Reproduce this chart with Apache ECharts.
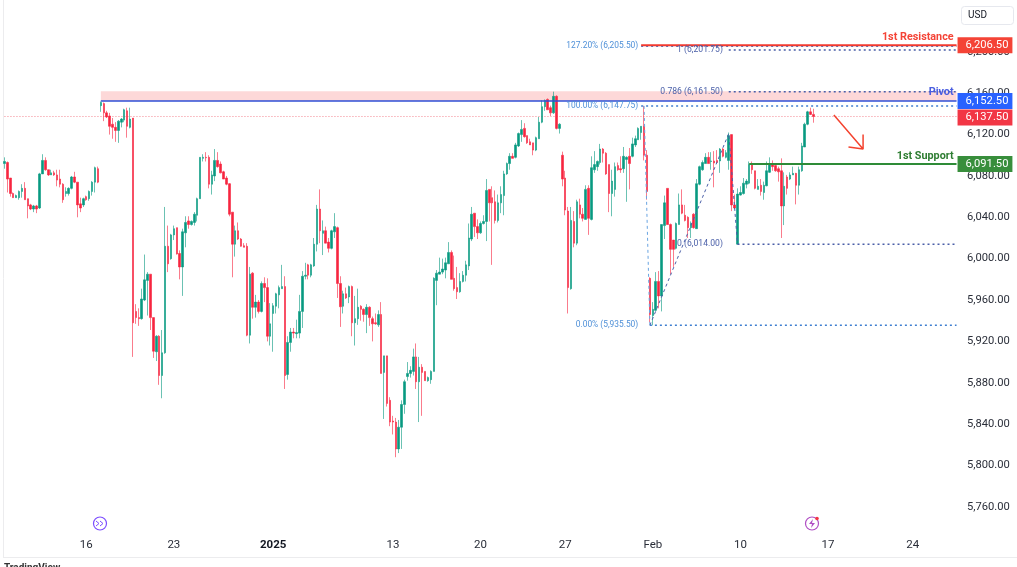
<!DOCTYPE html>
<html>
<head>
<meta charset="utf-8">
<title>ES 4H</title>
<script src="https://cdn.jsdelivr.net/npm/echarts@6/dist/echarts.min.js"></script>
<style>
html,body{margin:0;padding:0;background:#fff;overflow:hidden;}
#main{width:1017px;height:567px;}
</style>
</head>
<body>
<div id="main"></div>
<script>
//candles, one value per 4h bar
var opens = [
6092,6093,6078,6063,6059,6059,6065,6068,6058,6052,
6048,6051,6049,6082,6095,6086,6081,6083,6081,6077,
6072,6063,6063,6068,6079,6074,6053,6052,6060,6058,
6065,6074,6087,6148,6150,6141,6138,6130,6127,6124,
6132,6134,6143,6127,6136,5949,5943,5942,5960,5979,
5985,5943,5910,5925,5887,5909,6012,6000,6023,6030,
6005,5992,6025,6036.5,6033,6035,6042,6058,6097,6098,
6098,6072,6080,6095,6091.5,6084,6078,6072.5,6045,6014,
6027,6019,6012.5,6012,5926,5986,5953,5958,5949,5976,
5972,5925,5947,5954,5965,5971,5973,5888,5919,5929,
5927.5,5928,5949,5983,5994,5984,5993,6014,6048,6024.5,
6027,6016,6010,6026,6030,5976,5954,5966,5963,5973,
5938,5942,5954,5951,5946,5953,5942,5938,5936,5946,
5890,5906,5863,5843,5842,5816,5837,5859,5886,5889,
5891,5905,5881,5895,5891,5882,5883,5891,5979,5985,
5987,5989,5995,6006,5981,5972,5968,5978,5984,5993,
6019,6044,6031,6025,6034,6036,6067,6059,6055,6037,
6054,6061,6082,6092,6099,6098,6109,6120,6126,6119,
6113,6112,6105,6116,6132,6147,6154,6146,6141,6157,
6126,6100,6078,6046,5971,6036,6015,6052,6043,6038,
6068,6038,6086,6089,6093,6106,6102,6091,6063,6067,
6090,6087,6087,6096,6099,6099,6110,6115,6122,6128,
6100,5981,5945,5950,5978,5964,6032,6068,6033,6018,
6010,6033,6052,6042,6040,6030,6043,6029,6072,6086,
6092,6098,6094,6094.5,6095,6094.5,6106,6098,6095,6120,
6052,6014,6061.5,6063,6072,6073,6091,6085,6067,6071,
6064,6070.5,6083.5,6090.5,6090,6087,6085,6051,6079,6077,
6081,6082.5,6071,6085,6108,6130,6142,6139.5];
var closes = [
6094,6077,6063,6059,6061,6065,6068,6057,6051,6048,
6051,6048,6082,6095,6086,6081,6083,6081,6076,6072,
6057,6065,6068,6079,6074,6052,6049,6058,6057,6065,
6074,6088,6074,6151,6141,6137,6128,6127,6124,6133,
6135,6144,6128,6135,5938,5943,5942,5961,5979.5,5985,
5943,5910.5,5925,5887,5909,6012,5995,6023,6029,6004.5,
5992,6026,6035,6033,6036,6043,6058,6098,6098,6097.5,
6072,6081,6095,6089,6083,6077,6072,6043,6014,6027,
6019,6012,6011,5926,5985,5953,5958,5949,5976,5972,
5925,5937,5954.5,5966,5972,5973,5887,5919,5929,5928,
5928.5,5949,5983,5984,5984,5994,6014,6048,6027,6027,
6015,6010,6027,6031,5976,5953.5,5966,5962,5973,5938,
5942,5953,5951,5946,5953,5943,5937,5937,5946,5889,
5906,5860,5842,5842,5816,5837,5859,5881,5889,5892,
5905,5881,5895,5890,5882,5885,5891,5981,5986,5987,
5990,5996,6006,5980,5971,5968,5978,5984,5994,6020,
6043,6031,6025,6034,6036,6066,6054,6054,6037,6054,
6062,6082,6092,6099,6097,6110,6121,6125,6118,6112,
6110,6105,6117,6132,6147,6153,6144,6141,6157,6126,
6130,6077,6047,5972,6037,6015,6055,6043,6039,6067,
6039,6088,6091,6094,6106,6102,6082,6063,6075,6089,
6086,6086,6099,6098,6092,6111,6116,6126,6128,6100,
6065,5946,5951,5978,5964,6033,6054,6033,6009,6009,
6034,6052,6044,6037,6030,6034,6030,6072.5,6089,6093,
6098,6092,6094.5,6092.5,6093,6106,6099,6102.5,6119,6052,
6049,6062.5,6064,6073,6075,6091,6086,6068,6070,6065,
6071,6085,6091,6089,6085,6084,6051,6070,6068,6081,
6082.5,6071,6086,6109,6130,6142,6139.5,6137.5];
var lows = [
6087,6064,6060,6059,6059,6057,6059,6057,6039,6047,
6045,6044,6048,6082,6085,6080,6081,6080,6070,6069,
6054,6060,6061,6067,6073,6040,6045,6050,6056,6056,
6061,6064,6073,6142,6133,6136,6120,6116,6113,6112,
6127,6132,6117,6126,5905,5937,5935,5941,5959,5945,
5931,5904,5901,5878,5865,5908,5987,5999,6018,6004,
5980,5964,6011,6029,6032,6032,6036,6058,6094,6094,
6068,6062,6075,6088,6082.5,6077,6071,6041,5982,6002,
6018,6011.6,6011,5925,5918,5942,5943,5947,5948,5958,
5920,5916,5910,5947,5952,5971,5874,5883,5910,5923,
5923,5923,5933,5980,5980,5982,5992,6007,6015,6003.5,
6015,6006,6009,6020,5962,5934,5947,5961,5957,5925,
5916,5936,5940,5939,5928,5935,5920,5936,5934,5889,
5845,5857,5838,5830,5808,5812,5816,5850,5882,5885,
5887,5874,5842,5848,5882,5881,5879,5891,5955,5985,
5985,5981,5995,5980,5969,5961,5967,5977,5978,5989,
6017,6021,6019,6024,6033,6017,6036,5994,6034,6035,
6044,6042,6081,6086,6097,6097,6108,6113,6117,6111,
6110,6100,6104,6116,6131,6143,6144,6138,6140,6125,
6121,6070,6042,5947,5970,6011,6013,6039,6036,6038,
6023,6037,6083,6085,6091,6093,6081,6045,6041,6060,
6085,6083,6083,6055,6067,6098,6108,6115,6115,6095,
6057,5938.5,5935.5,5949,5952,5949,6019,6033,5985,5992,
6009,6033,6043,6036,6020,6020,6029,6029,6071,6085,
6092,6092,6086,6069,6092,6083,6098,6097,6086,6046,
6048,6014,6061,6062,6068,6072,6082,6067,6067,6061,
6057,6070,6083,6085,6084,6074.5,6020,6032.5,6062,6076,
6081,6052.5,6062,6084,6108,6129,6139,6131.5];
var highs = [
6098,6094,6078,6064,6062,6066,6072,6074,6058,6053,
6052,6052,6083,6101,6098,6086,6086,6085,6086,6086,
6073,6069,6069,6080,6084,6074,6059,6059,6061,6066,
6075,6089,6089,6152,6151,6143,6141,6136,6132,6134,
6136,6145,6146,6146,6136,5956,5952,5971,6004,5987,
5985,5943,5926,5926,5931,6050,6032,6024,6032,6030,
6008,6029,6041,6041,6037,6045,6059,6098,6101,6103,
6100,6085,6106,6103,6094,6085,6080,6073,6045,6032,
6035,6020,6015,6015,5992,5987,5965,5960,5978,5982,
5981,5957,5957,5967,5974,5994,5983,5925,5933,5933,
5941,5965,5988,5996,5995,5995,6020,6052,6067,6037,
6031,6020,6028,6044,6031,5983,5969,5972,5974,5974,
5964,5971,5955,5952,5956,5954,5944,5947,5950,5958,
5906,5906,5866,5848,5846,5844,5863,5883,5900,5896,
5913,5918,5905,5898,5891,5886,5892,5982,5989,6001,
6000,6001,6016,6008,6003,5992,5986,5988,5998,6034,
6050,6044,6038,6036,6042,6077,6067,6070,6066,6062,
6070,6085,6093,6102,6102,6112,6122,6134,6131,6119,
6116,6112,6118,6137,6153,6154,6155,6148,6161.5,6158,
6131,6103.5,6085,6050,6050,6046,6057,6058,6049,6071,
6071,6099,6104,6095,6111,6107,6103,6091,6086,6093,
6093,6099,6108,6099,6107,6117,6119,6127,6128,6147.75,
6105,5982,5958,5987,5988,6033,6061,6068,6034,6018,
6035,6063,6067,6052,6041,6036,6044,6077,6090,6095,
6102,6103,6103,6104,6105,6107,6107,6105,6122,6120,
6062,6068,6070,6078,6077,6094,6094,6085,6077,6077,
6074.5,6094,6098,6095,6090.5,6089,6097,6083.5,6081,6083.5,
6089,6083,6089,6112,6131.5,6143,6146,6145];

//time axis
var tickSlots = [28,58,92,133,163,192,222,252,282,311];
var tickLabels = ['16','23','2025','13','20','27','Feb','10','17','24'];
var slotCount = 327;
var lastSlot = slotCount - 1;

//levels
var resistance = 6206.5;
var pivot = 6152.5;
var lastPrice = 6137.5;
var support = 6091.5;
var zoneTop = 6162;
var fibLight = [6205.5, 6147.75, 5935.5];
var fibLightText = ['127.20% (6,205.50)', '100.00% (6,147.75)', '0.00% (5,935.50)'];
var fibLightStart = [218, 218, 221];
var fibDark = [6201.75, 6161.5, 6014];
var fibDarkText = ['1 (6,201.75)', '0.786 (6,161.50)', '0 (6,014.00)'];
var fibDarkStart = [248, 248, 251];

//fib anchors and the red arrow
var fibLegA = [[219, 6147.75], [221, 5935.5]];
var fibLegB = [[221, 5935.5], [248, 6121], [251, 6014]];
var arrowPath = [[284, 6139], [294, 6106], [289, 6108], [294, 6106], [294, 6120]];

var RED = '#f7253f';
var GREEN = '#089981';
var RED_WICK = 'rgba(247,37,63,0.6)';
var GREEN_WICK = 'rgba(8,153,129,0.6)';
var FONT = 'Roboto, "Liberation Sans", sans-serif';

var categories = [];
for (var i = 0; i < slotCount; i++) {
    categories.push('');
}
for (var t = 0; t < tickSlots.length; t++) {
    categories[tickSlots[t]] = tickLabels[t];
}

var candleData = [];
for (var c = 0; c < opens.length; c++) {
    candleData.push([opens[c], closes[c], lows[c], highs[c]]);
}

function lineSeries(points, color, width, type, z) {
    return {
        type: 'line',
        data: points,
        symbol: 'none',
        silent: true,
        animation: false,
        z: z,
        lineStyle: { color: color, width: width, type: type }
    };
}
function levelSeries(start, price, color, width, type, z) {
    return lineSeries([[start, price], [lastSlot, price]], color, width, type, z);
}
//invisible point that only carries a text label
function textSeries(slot, price, text, label) {
    var l = {
        show: true,
        position: 'left',
        distance: 0,
        fontFamily: FONT,
        formatter: text
    };
    for (var k in label) {
        l[k] = label[k];
    }
    return {
        type: 'scatter',
        data: [[slot, price]],
        symbolSize: 0,
        silent: true,
        animation: false,
        z: 20,
        itemStyle: { opacity: 1 },
        label: l
    };
}
function badgeSeries(price, text, color, off, z) {
    return {
        type: 'scatter',
        data: [[lastSlot, price]],
        symbolSize: 0,
        silent: true,
        animation: false,
        z: z,
        itemStyle: { opacity: 1 },
        label: {
            show: true,
            position: 'right',
            distance: 1,
            offset: [0, off],
            formatter: text,
            color: '#fff',
            fontFamily: FONT,
            fontSize: 11.2,
            lineHeight: 13,
            backgroundColor: color,
            padding: [2, 4, 1, 8]
        }
    };
}

var LIGHT = '#3f7fd0';
var DARK = '#4a5fa8';
var series = [];

series.push({
    type: 'candlestick',
    data: candleData,
    barWidth: 2,
    z: 5,
    animation: false,
    itemStyle: {
        color: GREEN,
        color0: RED,
        borderColor: GREEN_WICK,
        borderColor0: RED_WICK,
        borderWidth: 1
    },
    markArea: {
        silent: true,
        itemStyle: { color: '#fdd8d8' },
        data: [[{ xAxis: 33, yAxis: zoneTop }, { xAxis: lastSlot, yAxis: pivot }]]
    }
});
series.push(levelSeries(0, lastPrice, '#f4858f', 1, [1, 2], 4));
series.push(levelSeries(33, pivot, '#2f4fd6', 1.5, 'solid', 8));
series.push(levelSeries(218, resistance, '#f23a2f', 2, 'solid', 9));
series.push(levelSeries(255, support, '#2e8b37', 2, 'solid', 9));
series.push(lineSeries(fibLegA, '#6aa5e2', 1, [3, 3], 6));
series.push(lineSeries(fibLegB, DARK, 1, [3, 3], 6));
series.push(lineSeries(arrowPath, '#f4432f', 1.5, 'solid', 9));

for (var a = 0; a < fibLight.length; a++) {
    series.push(levelSeries(fibLightStart[a], fibLight[a], LIGHT, 1.5, [2, 3], 6));
    series.push(textSeries(217, fibLight[a], fibLightText[a], { color: '#4f90d8', fontSize: 8.4 }));
}
for (var b = 0; b < fibDark.length; b++) {
    series.push(levelSeries(fibDarkStart[b], fibDark[b], DARK, 1.5, [2, 3], 6));
    series.push(textSeries(246, fibDark[b], fibDarkText[b], { color: DARK, fontSize: 8.6 }));
}

series.push(textSeries(325, resistance, '1st Resistance', { color: '#f44336', fontSize: 10.8, fontWeight: 'bold', offset: [0, -8] }));
series.push(textSeries(325, pivot, 'Pivot', { color: '#4a5ee0', fontSize: 10.8, fontWeight: 'bold', offset: [0, -9] }));
series.push(textSeries(325, support, '1st Support', { color: '#2e7d32', fontSize: 10.8, fontWeight: 'bold', offset: [0, -8] }));

series.push(badgeSeries(resistance, '6,206.50', '#f44336', 0, 30));
series.push(badgeSeries(lastPrice, '6,137.50', '#f23645', 1, 30));
series.push(badgeSeries(pivot, '6,152.50', '#2962ff', 0, 31));
series.push(badgeSeries(support, '6,091.50', '#388e3c', 0, 30));

var option = {
    animation: false,
    backgroundColor: '#fff',
    grid: { left: 3, right: 59, top: 10.5, bottom: 18.8 },
    xAxis: {
        type: 'category',
        data: categories,
        boundaryGap: true,
        axisLine: { show: false },
        axisTick: { show: false },
        splitLine: { show: false },
        axisLabel: {
            interval: function (index, value) {
                return value !== '';
            },
            hideOverlap: false,
            margin: -9,
            color: '#2a2e39',
            fontFamily: FONT,
            fontSize: 11.5,
            formatter: function (value) {
                return value === '2025' ? '{b|2025}' : value;
            },
            rich: {
                b: { fontWeight: 'bold', color: '#131722', fontFamily: FONT, fontSize: 11.5 }
            }
        }
    },
    yAxis: {
        type: 'value',
        position: 'right',
        min: 5720,
        max: 6240,
        interval: 40,
        scale: true,
        axisLine: { show: false },
        axisTick: { show: false },
        splitLine: { show: false },
        axisLabel: {
            showMinLabel: false,
            showMaxLabel: false,
            margin: 9,
            color: '#2a2e39',
            fontFamily: FONT,
            fontSize: 11.2,
            formatter: function (value) {
                return echarts.format.addCommas(value.toFixed(2));
            }
        }
    },
    graphic: [
        { type: 'line', shape: { x1: 3.5, y1: 0, x2: 3.5, y2: 557 }, style: { stroke: '#ececee', lineWidth: 1 }, silent: true },
        { type: 'line', shape: { x1: 3, y1: 557.5, x2: 1017, y2: 557.5 }, style: { stroke: '#ececee', lineWidth: 1 }, silent: true },
        { type: 'rect', shape: { x: 961.5, y: 6.5, width: 52, height: 18, r: 3 }, style: { fill: '#fff', stroke: '#e6e8ee', lineWidth: 1 }, z: 40, silent: true },
        { type: 'text', x: 968, y: 10, style: { text: 'USD', fill: '#131722', font: '10px ' + FONT }, z: 41, silent: true },
        //replay icon
        { type: 'circle', shape: { cx: 100, cy: 523.5, r: 6.5 }, style: { fill: '#fff', stroke: '#7c4dff', lineWidth: 1.2 }, silent: true, z: 40 },
        { type: 'polyline', shape: { points: [[96, 521], [99, 523.5], [96, 526]] }, style: { fill: 'none', stroke: '#7c4dff', lineWidth: 1 }, silent: true, z: 41 },
        { type: 'polyline', shape: { points: [[100, 521], [103, 523.5], [100, 526]] }, style: { fill: 'none', stroke: '#7c4dff', lineWidth: 1 }, silent: true, z: 41 },
        //earnings icon
        { type: 'circle', shape: { cx: 812, cy: 523.5, r: 6.5 }, style: { fill: '#fff', stroke: '#b04fc4', lineWidth: 1.2 }, silent: true, z: 40 },
        { type: 'polygon', shape: { points: [[813, 519], [809, 524], [812, 524], [811, 528], [815, 523], [812, 523]] }, style: { fill: '#b04fc4' }, silent: true, z: 41 },
        { type: 'circle', shape: { cx: 817, cy: 518.5, r: 1.8 }, style: { fill: '#f23645' }, silent: true, z: 42 },
        //logo line cut by the bottom of the window
        { type: 'text', x: 4, y: 563.5, style: { text: 'TradingView', fill: '#333', font: 'bold 10px ' + FONT }, silent: true }
    ],
    series: series
};

var chart = echarts.init(document.getElementById('main'));
chart.setOption(option);
</script>
</body>
</html>
